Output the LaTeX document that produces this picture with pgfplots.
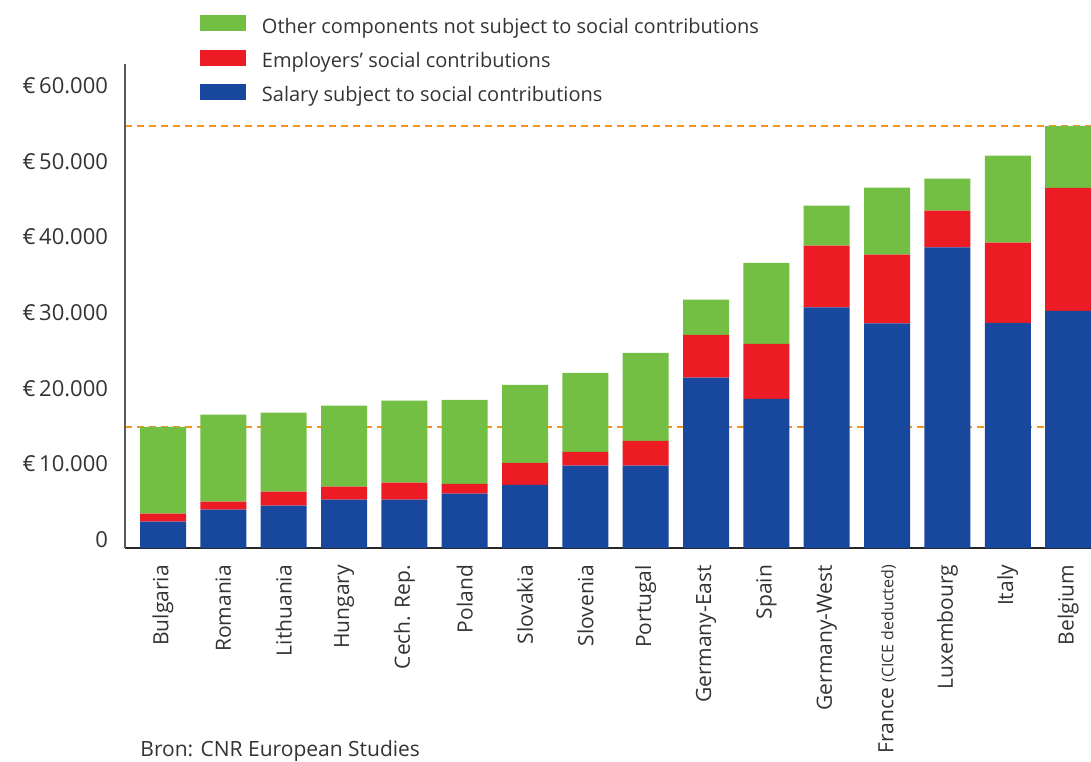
\documentclass[border=0pt]{standalone}
\usepackage{pgfplots}
\pgfplotsset{compat=1.18}
\usepackage{fontspec}
\setmainfont{Open Sans}
\definecolor{cgreen}{HTML}{72BF44}
\definecolor{cred}{HTML}{ED1C24}
\definecolor{cblue}{HTML}{18489E}
\definecolor{corange}{RGB}{247,148,29}
\definecolor{ctext}{HTML}{333333}
\pgfplotstableread{
x blue red green
0 3480 1060 11480
1 5070 1060 11510
2 5600 1850 10460
3 6390 1720 10730
4 6390 2250 10860
5 7190 1280 11120
6 8340 2910 10320
7 10890 1820 10450
8 10890 3270 11650
9 22540 5650 4640
10 19720 7280 10720
11 31810 8160 5300
12 29690 9090 8870
13 39750 4860 4230
14 29780 10590 11520
15 31370 16250 8180
}\datatable
\pgfplotsset{common/.style={
  at={(62.5pt,106.5pt)}, anchor=south west,
  scale only axis, width=483pt, height=242pt,
  xmin=-0.63, xmax=15.38, ymin=0, ymax=64000,
  enlargelimits=false}}
\begin{document}
\begin{tikzpicture}
\path[use as bounding box] (0,0) rectangle (545.5pt,380.5pt);
% reference lines (behind the bars)
\begin{axis}[common, hide axis]
\addplot[draw=corange, line width=1pt, dash pattern=on 3.5pt off 2.5pt, mark=none] coordinates {(-0.63,55800) (15.38,55800)};
\addplot[draw=corange, line width=1pt, dash pattern=on 3.5pt off 2.5pt, mark=none] coordinates {(-0.63,16020) (15.38,16020)};
\end{axis}
\begin{axis}[
  common,
  ybar stacked, bar width=23pt,
  scaled y ticks=false,
  axis x line=bottom, axis y line=left,
  axis line style={-},
  x axis line style={draw=black!85, line width=1pt},
  y axis line style={draw=black!65, line width=0.6pt},
  major tick length=0pt,
  xtick={0,...,15},
  xticklabels={Bulgaria,Romania,Lithuania,Hungary,Cech. Rep.,Poland,Slovakia,Slovenia,Portugal,Germany-East,Spain,Germany-West,{France {\fontsize{8}{9}\selectfont (CICE deducted)}},Luxembourg,Italy,Belgium},
  xticklabel style={rotate=90, anchor=east, font=\fontsize{10.5}{12}\selectfont, text=ctext, xshift=-5pt},
  ytick={0,10000,20000,30000,40000,50000,60000},
  yticklabels={0,€\,10.000,€\,20.000,€\,30.000,€\,40.000,€\,50.000,€\,60.000},
  yticklabel style={font=\fontsize{11}{13}\selectfont, text=ctext, xshift=-5pt, yshift=4.25pt},
  legend style={draw=none, fill=none, at={(0.0776,1.1008)}, anchor=north west, inner sep=0pt, outer sep=0pt,
    row sep=6.3pt, font=\fontsize{10}{12}\selectfont, text=ctext,
    nodes={inner sep=0pt, text height=7pt, text depth=2pt},
    /tikz/every odd column/.append style={column sep=8pt}},
  legend cell align=left,
  reverse legend,
  legend image code/.code={\fill[#1] (0pt,-1.6pt) rectangle (23pt,6.4pt);},
]
\addplot[fill=cblue, draw=none] table[x=x, y=blue] {\datatable};
\addlegendentry{Salary subject to social contributions}
\addplot[fill=cred, draw=none] table[x=x, y=red] {\datatable};
\addlegendentry{Employers’ social contributions}
\addplot[fill=cgreen, draw=none] table[x=x, y=green] {\datatable};
\addlegendentry{Other components not subject to social contributions}
\end{axis}
\node[anchor=base west, font=\fontsize{10.5}{12}\selectfont, text=ctext, inner sep=0pt] at (70pt,2.5pt) {Bron: CNR European Studies};
\end{tikzpicture}
\end{document}
